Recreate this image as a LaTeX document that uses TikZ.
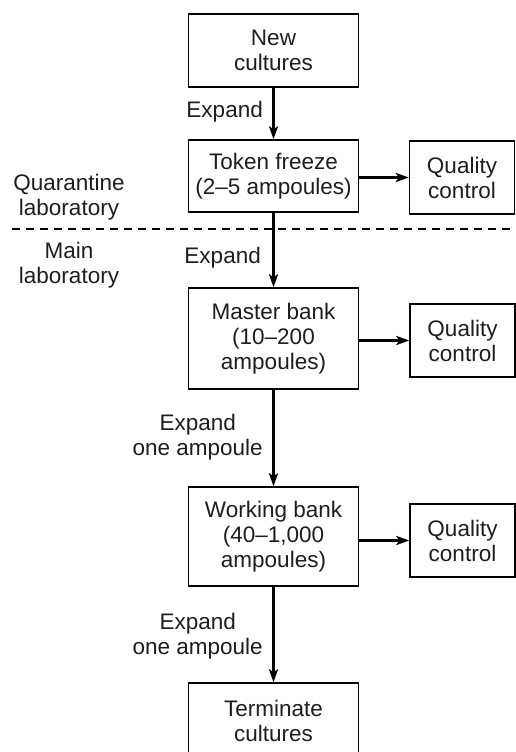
\documentclass[tikz,border=0pt]{standalone}
\usepackage{fontspec}
\setmainfont{Liberation Sans}
\usetikzlibrary{arrows.meta}
\definecolor{txt}{HTML}{1E1E1E}
\begin{document}
\begin{tikzpicture}[x=1pt,y=-1pt,
  every node/.style={text=txt, font=\fontsize{22.5}{25}\selectfont, align=center, inner sep=0pt},
  mainbox/.style={draw=black, line width=1.4pt, minimum width=170pt},
  qcbox/.style={draw=black, line width=1.4pt, minimum width=105pt, minimum height=73pt},
  lbl/.style={},
  arr/.style={draw=black, line width=2.8pt, -{Stealth[length=13pt,width=9pt,inset=3pt]}},
  sep/.style={draw=black, line width=1.4pt, dash pattern=on 8pt off 6pt}]
\useasboundingbox (0,0) rectangle (516,752);
\clip (0,0) rectangle (516,752);
\fill[white] (0,0) rectangle (516,752);

\node[mainbox, minimum height=73pt] (new) at (273.5,50.5) {New\\cultures};
\node[mainbox, minimum height=72pt] (token) at (273.5,176) {Token freeze\\(2–5 ampoules)};
\node[qcbox] (qc1) at (462,177.5) {Quality\\control};
\node[mainbox, minimum height=101pt] (master) at (273.5,338.5) {Master bank\\(10–200\\ampoules)};
\node[qcbox] (qc2) at (462.5,340.5) {Quality\\control};
\node[mainbox, minimum height=99pt] (working) at (273.5,536.5) {Working bank\\(40–1,000\\ampoules)};
\node[qcbox] (qc3) at (462.5,540.5) {Quality\\control};
\node[mainbox, minimum height=80pt] (term) at (273.5,723) {};
\node (termtxt) at (273.5,721) {Terminate\\cultures};

\coordinate (sepL) at (12,229);
\coordinate (sepR) at (518,229);
\draw[sep] (sepL) -- (sepR);

\node[lbl, anchor=east] (e1) at (263,112) {Expand};
\node[lbl] (ql) at (69,197) {Quarantine\\laboratory};
\node[lbl] (ml) at (69,265) {Main\\laboratory};
\node[lbl, anchor=east] (e2) at (261,258) {Expand};
\node[lbl, anchor=east] (e3) at (263,437) {Expand\\one ampoule};
\node[lbl, anchor=east] (e4) at (263,636) {Expand\\one ampoule};

\draw[arr] (new) -- (token);
\draw[arr] (token) -- (master);
\draw[arr] (master) -- (working);
\draw[arr] (working) -- (term);
\draw[arr] (token.east |- qc1) -- (qc1.west);
\draw[arr] (master.east |- qc2) -- (qc2.west);
\draw[arr] (working.east |- qc3) -- (qc3.west);
\end{tikzpicture}
\end{document}
